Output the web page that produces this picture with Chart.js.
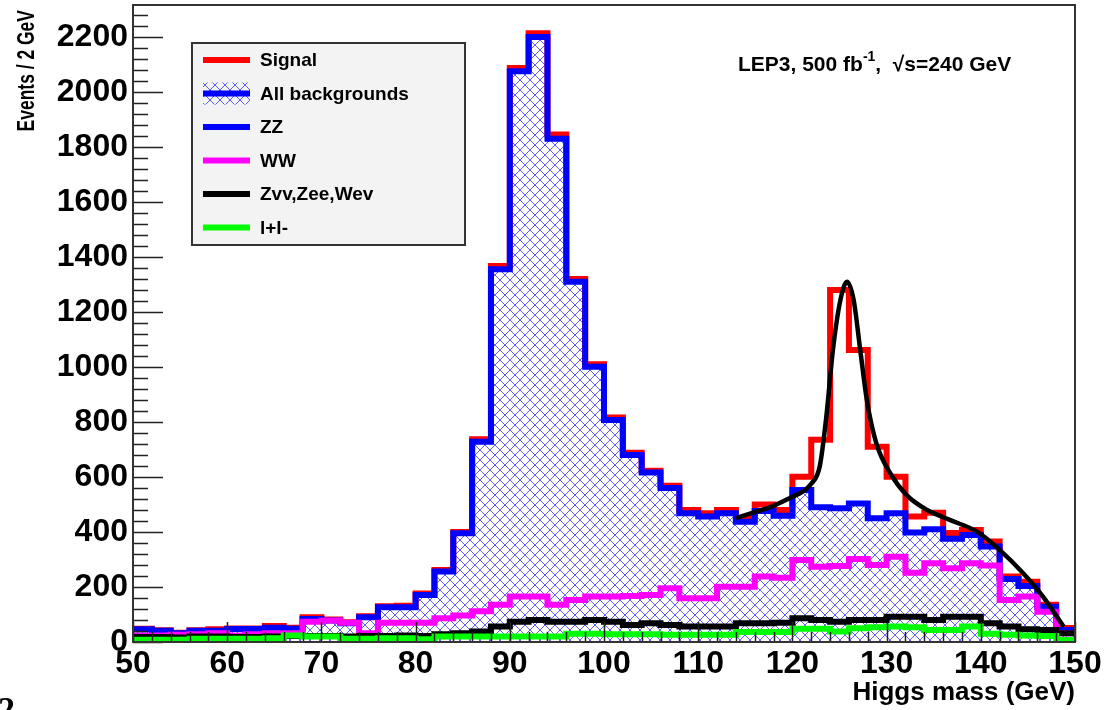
<!DOCTYPE html>
<html><head><meta charset="utf-8">
<script src="https://cdn.jsdelivr.net/npm/chart.js@4.4.1/dist/chart.umd.min.js"></script>
<style>html,body{margin:0;padding:0;background:#fff;overflow:hidden}#wrap{position:relative;width:1117px;height:710px}</style>
</head><body><div id="wrap"><canvas id="c" width="1117" height="710"></canvas></div>
<script>
// ---- data ----
const binEdges = [50,52,54,56,58,60,62,64,66,68,70,72,74,76,78,80,82,84,86,88,90,92,94,96,98,100,102,104,106,108,110,112,114,116,118,120,122,124,126,128,130,132,134,136,138,140,142,144,146,148];
const xEnd = 150;
const signalStack = [48,43,34,43,46,49,49,58,52,90,82,72,94,130,132,176,262,400,737,1367,2087,2213,1845,1320,1010,816,688,623,568,480,468,480,450,500,480,601,735,1280,1062,710,601,456,470,396,407,365,238,219,135,51];
const allBkg = [46,41,32,41,41,47,47,52,48,84,78,68,90,126,126,171,256,395,728,1355,2075,2200,1830,1310,1001,807,680,616,560,468,456,468,437,476,459,553,490,486,504,450,468,398,410,375,389,347,229,204,128,44];
const wwStack = [24,24,26,28,32,24,28,32,32,74,78,70,32,70,70,70,86,96,112,135,165,165,135,153,165,165,167,171,195,159,159,201,201,238,234,298,274,276,302,280,310,252,286,268,286,278,153,165,110,32];
const zvvStack = [18,18,16,20,20,18,18,20,22,22,22,20,22,22,24,22,28,32,38,56,74,80,74,74,80,74,62,68,62,56,56,56,68,68,70,86,80,74,80,80,92,92,80,92,92,68,56,46,44,32];
const llStack = [8,8,8,12,12,12,12,14,24,20,20,12,12,14,14,10,20,20,20,20,20,20,20,30,30,28,28,28,26,26,26,26,36,36,36,48,48,38,50,54,56,54,44,44,56,30,26,24,22,7];
const fitX = [114,116,118,120,121,122,122.9,123.6,124.3,125.1,125.8,126.5,127.2,127.9,128.9,130.4,132.1,134.3,136.7,139.6,142,144.5,146.6,148.8];
const fitY = [450,472,495,528,545,575,638,819,1062,1244,1310,1244,1062,880,723,613,535,480,444,401,335,250,165,56];
const xTickValues = [50,60,70,80,90,100,110,120,130,140,150];
const yTickValues = [0,200,400,600,800,1000,1200,1400,1600,1800,2000,2200];
const yTop = 2316;

const FONT = "'Liberation Sans', Arial, Helvetica, sans-serif";
const canvas = document.getElementById('c');
const mainCtx = canvas.getContext('2d');

function makeHatch(){
  const s = 10, c = document.createElement('canvas'); c.width = s; c.height = s;
  const g = c.getContext('2d');
  g.strokeStyle = 'rgba(55,55,250,0.8)'; g.lineWidth = 1;
  g.beginPath();
  g.moveTo(-1,-1); g.lineTo(s+1,s+1);
  g.moveTo(s+1,-1); g.lineTo(-1,s+1);
  g.stroke();
  return mainCtx.createPattern(c,'repeat');
}
const hatch = makeHatch();

function hist(vals){
  const pts = binEdges.map((e,i)=>({x:e, y:vals[i]}));
  pts.push({x:xEnd, y:vals[vals.length-1]});
  return pts;
}
function histDs(label, vals, color, order, extra){
  return Object.assign({
    label, data: hist(vals), borderColor: color, backgroundColor: color,
    borderWidth: 6, stepped: 'before', fill: false, pointRadius: 0, order,
    borderJoinStyle: 'miter', borderCapStyle: 'butt', legendShow: true
  }, extra||{});
}

const datasets = [
  histDs('Signal', signalStack, '#ff0000', 5),
  histDs('All backgrounds', allBkg, '#0000ff', 6, {borderWidth:0, fill:'origin', backgroundColor: hatch, hatchLegend:true}),
  histDs('ZZ', allBkg, '#0000ff', 4),
  histDs('WW', wwStack, '#ff00ff', 3),
  histDs('Zvv,Zee,Wev', zvvStack, '#000000', 2),
  histDs('l+l-', llStack, '#00ff00', 1),
  { label:'fit', data: fitX.map((x,i)=>({x, y:fitY[i]})), borderColor:'#000', borderWidth:4.5,
    cubicInterpolationMode:'monotone', pointRadius:0, fill:false, order:0, legendShow:false }
];

const rootFrame = {
  id:'rootFrame',
  afterDatasetsDraw(chart){
    const {ctx, chartArea:a, scales:{x, y}} = chart;
    ctx.save();
    ctx.strokeStyle = '#222'; ctx.lineWidth = 1.5;
    ctx.beginPath();
    for (let v = 0; v <= yTop; v += 40){
      const p = Math.round(y.getPixelForValue(v)) + 0.5;
      const len = (v % 200 === 0) ? 30 : 15;
      ctx.moveTo(a.left, p); ctx.lineTo(a.left + len, p);
    }
    for (let v = 50; v <= 150; v += 2){
      const p = Math.round(x.getPixelForValue(v)) + 0.5;
      const len = (v % 10 === 0) ? 20 : 10;
      ctx.moveTo(p, a.bottom); ctx.lineTo(p, a.bottom - len);
    }
    ctx.stroke();
    ctx.strokeStyle = '#333'; ctx.lineWidth = 2;
    ctx.strokeRect(a.left, a.top, a.right - a.left, a.bottom - a.top);
    ctx.restore();
  },
  afterDraw(chart){
    const ctx = chart.ctx;
    ctx.save();
    // y axis title (slightly condensed along its length)
    ctx.save();
    ctx.translate(28, 10);
    ctx.rotate(-Math.PI/2);
    ctx.scale(0.76, 1);
    ctx.font = 'bold 23px ' + FONT; ctx.fillStyle = '#000';
    ctx.textAlign = 'right'; ctx.textBaseline = 'middle';
    ctx.fillText('Events / 2 GeV', 0, 0);
    ctx.restore();
    // legend box
    const L = {x:192, y:43, w:273, h:202};
    ctx.fillStyle = '#f3f3f3'; ctx.fillRect(L.x, L.y, L.w, L.h);
    ctx.strokeStyle = '#333'; ctx.lineWidth = 2; ctx.strokeRect(L.x, L.y, L.w, L.h);
    const items = chart.data.datasets.filter(d=>d.legendShow);
    ctx.font = 'bold 19px ' + FONT; ctx.textBaseline = 'middle'; ctx.textAlign = 'left';
    items.forEach((d,i)=>{
      const cy = 60 + i*33.5;
      if (d.hatchLegend){
        ctx.fillStyle = hatch; ctx.fillRect(203, cy-11, 47, 22);
      }
      ctx.strokeStyle = d.borderColor; ctx.lineWidth = 6; ctx.lineCap = 'butt';
      ctx.beginPath(); ctx.moveTo(203, cy); ctx.lineTo(250, cy); ctx.stroke();
      ctx.fillStyle = '#000'; ctx.fillText(d.label, 260, cy+1);
    });
    // annotation
    ctx.textBaseline = 'alphabetic';
    let tx = 738; const ty = 71;
    ctx.font = 'bold 21px ' + FONT; ctx.fillText('LEP3, 500 fb', tx, ty); tx += ctx.measureText('LEP3, 500 fb').width;
    ctx.font = 'bold 14px ' + FONT; ctx.fillText('-1', tx, ty - 10); tx += ctx.measureText('-1').width;
    ctx.font = 'bold 21px ' + FONT; ctx.fillText(',  \u221As=240 GeV', tx, ty);
    // fragment at bottom-left
    ctx.font = 'bold 34px "Liberation Serif", serif'; ctx.fillText('2.', -2, 720);
    ctx.restore();
  }
};

new Chart(canvas, {
  type:'line',
  data:{datasets},
  options:{
    responsive:false, animation:false, devicePixelRatio:1,
    layout:{padding:{left:0, right:42, top:5, bottom:0}},
    plugins:{legend:{display:false}, tooltip:{enabled:false}},
    scales:{
      x:{ type:'linear', min:50, max:150,
        afterBuildTicks:s=>{ s.ticks = xTickValues.map(v=>({value:v})); },
        afterFit:s=>{ s.height = 68; s.paddingLeft = 0; s.paddingRight = 0; },
        grid:{display:false, drawTicks:false}, border:{display:false},
        ticks:{font:{family:FONT, size:32, weight:'bold'}, color:'#000', padding:3, maxRotation:0, autoSkip:false, callback:v=>String(v)},
        title:{display:true, text:'Higgs mass (GeV)', align:'end', color:'#000', font:{family:FONT, size:26, weight:'bold'}, padding:{top:0, bottom:2}}
      },
      y:{ type:'linear', min:0, max:yTop,
        afterBuildTicks:s=>{ s.ticks = yTickValues.map(v=>({value:v})); },
        afterFit:s=>{ s.width = 133; s.paddingTop = 0; s.paddingBottom = 0; },
        grid:{display:false, drawTicks:false}, border:{display:false},
        ticks:{font:{family:FONT, size:32, weight:'bold'}, color:'#000', padding:5, callback:v=>String(v)},
        title:{display:false}
      }
    }
  },
  plugins:[rootFrame]
});
</script></body></html>
